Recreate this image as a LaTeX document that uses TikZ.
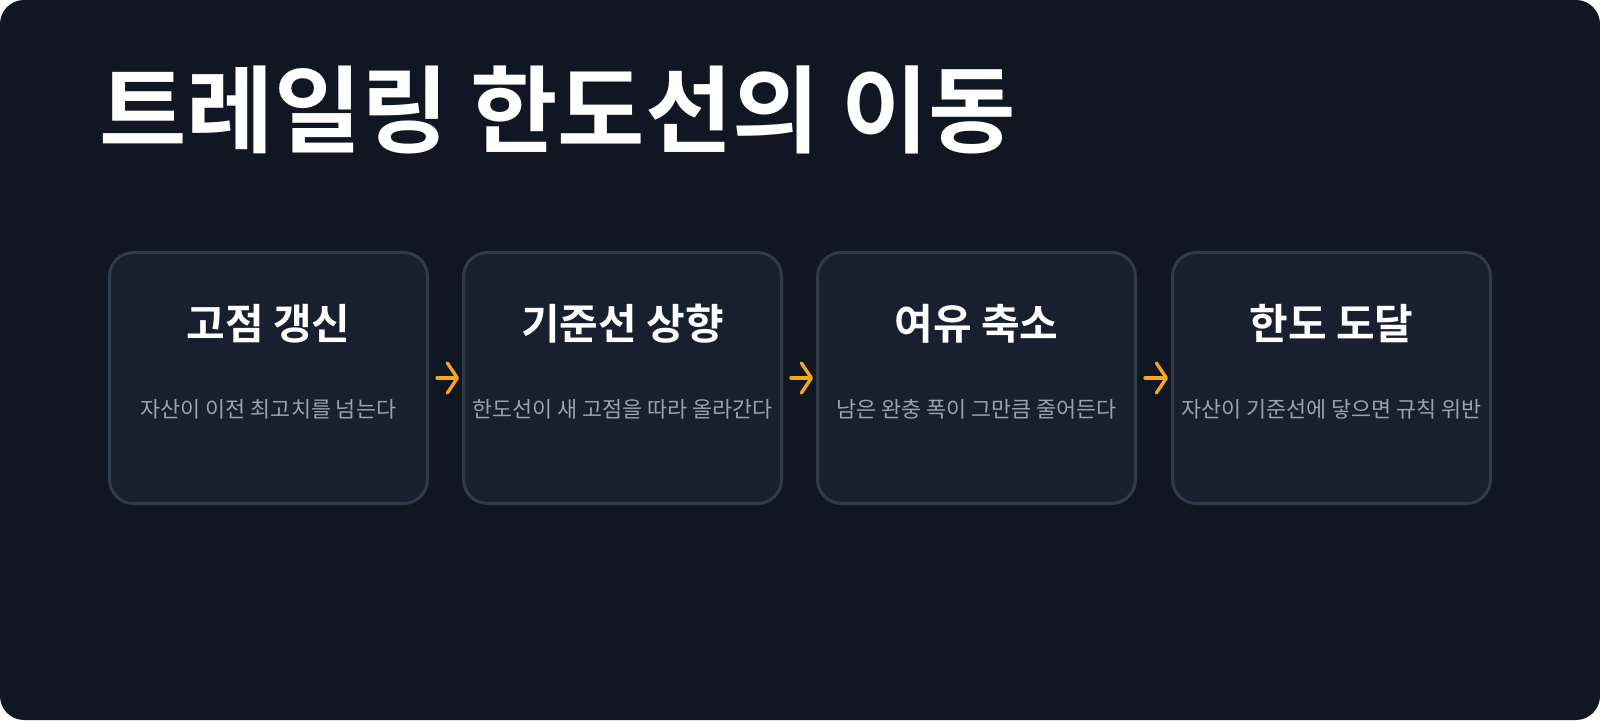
\documentclass[tikz,border=0pt]{standalone}
\usepackage{fontspec}
\usetikzlibrary{arrows.meta,calc}
\setmainfont{Noto Sans CJK KR}
\newfontfamily\krbold{Noto Sans CJK KR Bold}
\newfontfamily\krreg{Noto Sans CJK KR}
\definecolor{bgcol}{HTML}{111722}
\definecolor{boxfill}{HTML}{182030}
\definecolor{boxline}{HTML}{2F3A4B}
\definecolor{subcol}{HTML}{9AA2AF}
\definecolor{arrcol}{HTML}{F5A623}
\tikzset{
  stagebox/.style={draw=boxline, line width=3pt, fill=boxfill, rounded corners=24pt,
    minimum width=318pt, minimum height=251pt, inner sep=0pt},
  stagetitle/.style={text=white, font=\krbold\fontsize{42}{46}\selectfont, inner sep=0pt},
  stagesub/.style={text=subcol, font=\krreg\fontsize{21.8}{24}\selectfont, inner sep=0pt},
  flowarrow/.style={draw=arrcol, line width=3.3pt, line cap=round,
    -{Straight Barb[length=10pt, width=30pt, line width=3.3pt, round]}},
}
\begin{document}
\begin{tikzpicture}[x=1pt,y=1pt]
\useasboundingbox (0,0) rectangle (1600,720);
\fill[white] (0,0) rectangle (1600,720);
\fill[bgcol, rounded corners=24pt] (0,0) rectangle (1600,720);
\node[anchor=base west, text=white, font=\krbold\fontsize{95}{105}\selectfont, inner sep=0pt] (title) at (99,574) {트레일링 한도선의 이동};
\foreach \i/\cx/\t/\s in {1/268.5/고점 갱신/자산이 이전 최고치를 넘는다,
                          2/622.5/기준선 상향/한도선이 새 고점을 따라 올라간다,
                          3/976.5/여유 축소/남은 완충 폭이 그만큼 줄어든다,
                          4/1331.5/한도 도달/자산이 기준선에 닿으면 규칙 위반}{
  \node[stagebox] (b\i) at (\cx,342) {};
  \node[stagetitle] (t\i) at (\cx,396) {\t};
  \node[stagesub] (s\i) at (\cx,311) {\s};
}
\foreach \a/\b in {1/2,2/3,3/4}{
  \draw[flowarrow] ($(b\a.east)+(8,0)$) coordinate (st\a) -- ($(b\b.west)+(-3,0)$) coordinate (en\a);
}
\end{tikzpicture}
\end{document}
